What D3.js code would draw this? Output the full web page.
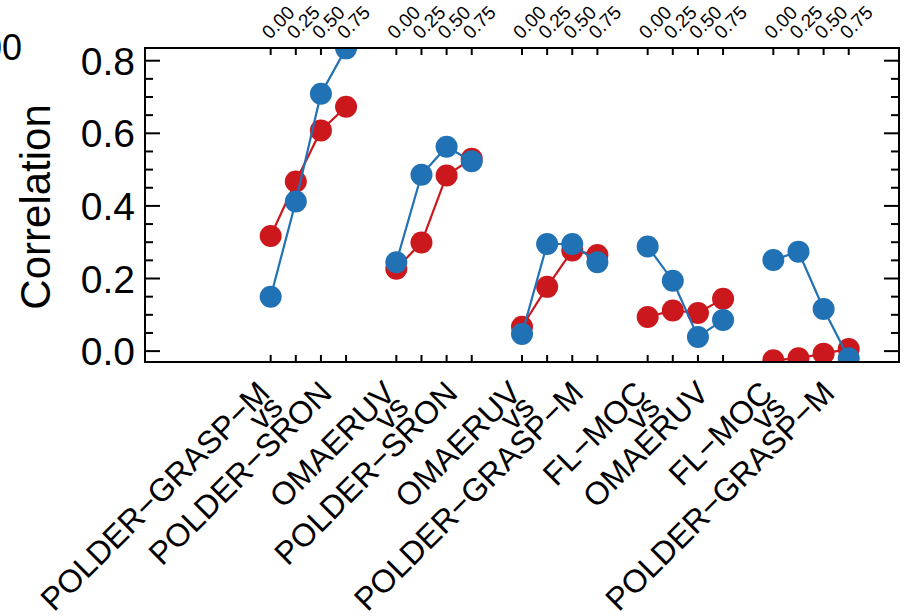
<!DOCTYPE html>
<html>
<head>
<meta charset="utf-8">
<script src="https://cdn.jsdelivr.net/npm/d3@7"></script>
<style>
  html, body { margin: 0; padding: 0; background: #fff; }
  svg { display: block; font-family: "Liberation Sans", Arial, Helvetica, sans-serif; }
</style>
</head>
<body>
<svg id="chart" width="904" height="616"></svg>
<script>
// Pairs of products being compared (three text lines per pair label)
const pairLabels = [
  ["POLDER−GRASP−M", "vs", "POLDER−SRON"],
  ["OMAERUV", "vs", "POLDER−SRON"],
  ["OMAERUV", "vs", "POLDER−GRASP−M"],
  ["FL−MOC", "vs", "OMAERUV"],
  ["FL−MOC", "vs", "POLDER−GRASP−M"]
];
// Sub-positions inside each pair (top axis labels)
const subTicks = [0.00, 0.25, 0.50, 0.75];
const subTickLabels = ["0.00", "0.25", "0.50", "0.75"];

// Correlation values, one row of four per pair
const seriesRed = [
  [0.317, 0.467, 0.608, 0.673],
  [0.227, 0.299, 0.484, 0.530],
  [0.067, 0.177, 0.277, 0.265],
  [0.094, 0.112, 0.105, 0.144],
  [-0.025, -0.020, -0.007, 0.006]
];
const seriesBlue = [
  [0.150, 0.412, 0.709, 0.834],
  [0.245, 0.486, 0.563, 0.523],
  [0.047, 0.295, 0.295, 0.245],
  [0.288, 0.194, 0.039, 0.086],
  [0.251, 0.274, 0.116, -0.020]
];

const yTickValues = [0.0, 0.2, 0.4, 0.6, 0.8];
const yLabel = "Correlation";

const groupStep = 1.25;
const colors = { red: "#CB181D", blue: "#2171B5" };

const svg = d3.select("#chart");
const plot = { left: 145, right: 899, top: 48, bottom: 362 };

const x = d3.scaleLinear().domain([-1.25, 6.25]).range([plot.left, plot.right]);
const y = d3.scaleLinear().domain([-0.03, 0.835]).range([plot.bottom, plot.top]);

// x positions for every sub tick of every pair
const xTickPositions = [];
pairLabels.forEach((_, g) => subTicks.forEach((t, i) =>
  xTickPositions.push({ v: g * groupStep + t, label: subTickLabels[i] })));

// clip for the data marks
svg.append("defs").append("clipPath").attr("id", "plotClip")
  .append("rect")
  .attr("x", plot.left).attr("y", plot.top)
  .attr("width", plot.right - plot.left).attr("height", plot.bottom - plot.top);

// ---- axes (box style with inward ticks) ----
const axisG = svg.append("g").attr("stroke", "#000").attr("stroke-width", 2);

// y ticks: major every 0.2, minor every 0.05
const minorY = d3.range(0, 0.8001, 0.05).map(v => +v.toFixed(2));
minorY.forEach(v => {
  const major = yTickValues.some(t => Math.abs(t - v) < 1e-6);
  const len = major ? 15 : 8;
  axisG.append("line").attr("x1", plot.left).attr("x2", plot.left + len)
    .attr("y1", y(v)).attr("y2", y(v));
  axisG.append("line").attr("x1", plot.right).attr("x2", plot.right - len)
    .attr("y1", y(v)).attr("y2", y(v));
});

// x ticks on bottom and top
xTickPositions.forEach(d => {
  axisG.append("line").attr("x1", x(d.v)).attr("x2", x(d.v))
    .attr("y1", plot.bottom).attr("y2", plot.bottom - 7);
  axisG.append("line").attr("x1", x(d.v)).attr("x2", x(d.v))
    .attr("y1", plot.top).attr("y2", plot.top + 7);
});

// y tick labels
svg.append("g").selectAll("text").data(yTickValues).join("text")
  .attr("x", plot.left - 10).attr("y", d => y(d))
  .attr("dy", "0.36em")
  .attr("text-anchor", "end")
  .attr("font-size", 39)
  .text(d => d3.format(".1f")(d));

// stray label at the top left edge
svg.append("text").attr("x", 22).attr("y", 60)
  .attr("text-anchor", "end").attr("font-size", 36).text("00");

// y axis title
svg.append("text")
  .attr("transform", `translate(50,${(y(0.0) + y(0.8)) / 2 + 1}) rotate(-90)`)
  .attr("text-anchor", "middle")
  .attr("font-size", 42)
  .text(yLabel);

// top sub-tick labels, rotated
svg.append("g").selectAll("text").data(xTickPositions).join("text")
  .attr("transform", d => `translate(${x(d.v) - 1},40) rotate(-45)`)
  .attr("font-size", 19)
  .text(d => d.label);

// pair labels under the axis, rotated, three lines each
const lineOffsets = [[0, 0], [13, 14], [62, 0]];
pairLabels.forEach((lines, g) => {
  const x0 = x(g * groupStep) + 1;
  const y0 = 395;
  lines.forEach((txt, i) => {
    svg.append("text")
      .attr("transform", `translate(${x0 + lineOffsets[i][0]},${y0 + lineOffsets[i][1]}) rotate(-45)`)
      .attr("text-anchor", "end")
      .attr("font-size", 32)
      .text(txt);
  });
});

// ---- data ----
const dataG = svg.append("g").attr("clip-path", "url(#plotClip)");
const line = d3.line().x(d => x(d.x)).y(d => y(d.y));

function drawSeries(values, color) {
  values.forEach((row, g) => {
    const pts = row.map((v, i) => ({ x: g * groupStep + subTicks[i], y: v }));
    dataG.append("path").datum(pts)
      .attr("d", line).attr("fill", "none")
      .attr("stroke", color).attr("stroke-width", 2.2);
    dataG.append("g").selectAll("circle").data(pts).join("circle")
      .attr("cx", d => x(d.x)).attr("cy", d => y(d.y)).attr("r", 11)
      .attr("fill", color);
  });
}
drawSeries(seriesRed, colors.red);
drawSeries(seriesBlue, colors.blue);

// frame on top
svg.append("rect")
  .attr("x", plot.left).attr("y", plot.top)
  .attr("width", plot.right - plot.left).attr("height", plot.bottom - plot.top)
  .attr("fill", "none").attr("stroke", "#000").attr("stroke-width", 2);
</script>
</body>
</html>
